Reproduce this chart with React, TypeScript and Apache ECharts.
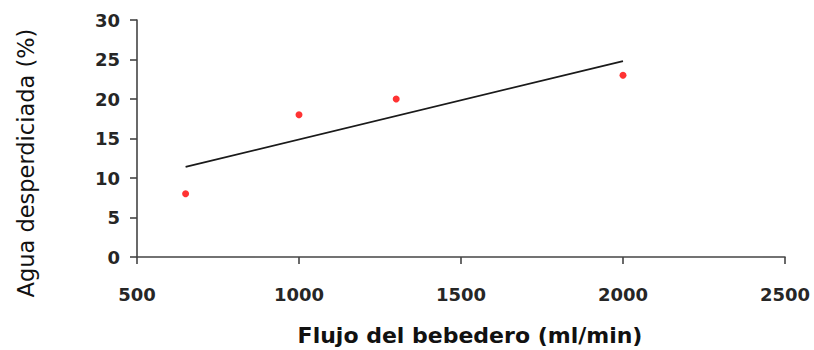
import React, { useEffect, useRef } from "react";
import * as echarts from "echarts";

const flowRates = [650, 1000, 1300, 2000];
const wastedWater = [8, 18, 20, 23];
const trendX = [650, 2000];
const trendY = [11.4, 24.8];
const xTicks = [500, 1000, 1500, 2000, 2500];
const yTicks = [0, 5, 10, 15, 20, 25, 30];
const xTitle = "Flujo del bebedero (ml/min)";
const yTitle = "Agua desperdiciada (%)";

export default function App() {
  const ref = useRef<HTMLDivElement>(null);
  useEffect(() => {
    const chart = echarts.init(ref.current!, null, { renderer: "svg" });
    const axisLine = { show: true, lineStyle: { color: "#444", width: 1.6 } };
    const tickLabel = {
      fontFamily: "DejaVu Sans",
      fontWeight: "bold",
      fontSize: 18,
      color: "#262626",
      formatter: (v: number) => String(v),
    };
    chart.setOption({
      animation: false,
      grid: { left: 137, right: 29, top: 20, bottom: 93, containLabel: false },
      xAxis: {
        type: "value",
        min: xTicks[0],
        max: xTicks[xTicks.length - 1],
        interval: xTicks[1] - xTicks[0],
        axisLine,
        axisTick: { show: true, inside: false, length: 7, lineStyle: { color: "#444", width: 1.6 } },
        axisLabel: { ...tickLabel, margin: 28 },
        splitLine: { show: false },
      },
      yAxis: {
        type: "value",
        min: yTicks[0],
        max: yTicks[yTicks.length - 1],
        interval: yTicks[1] - yTicks[0],
        axisLine,
        axisTick: { show: true, inside: false, length: 7, lineStyle: { color: "#444", width: 1.6 } },
        axisLabel: { ...tickLabel, margin: 17 },
        splitLine: { show: false },
      },
      graphic: [
        {
          type: "text",
          x: 470,
          y: 335,
          style: {
            text: xTitle,
            fontFamily: "DejaVu Sans",
            fontWeight: "bold",
            fontSize: 22,
            fill: "#111",
            align: "center",
            verticalAlign: "middle",
          },
        },
        {
          type: "text",
          x: 26,
          y: 163,
          rotation: Math.PI / 2,
          style: {
            text: yTitle,
            fontFamily: "DejaVu Sans",
            fontSize: 22.5,
            fill: "#111",
            align: "center",
            verticalAlign: "middle",
          },
        },
      ],
      series: [
        {
          type: "line",
          data: trendX.map((x, i) => [x, trendY[i]]),
          showSymbol: false,
          symbol: "none",
          lineStyle: { color: "#1a1a1a", width: 1.8 },
          z: 2,
        },
        {
          type: "scatter",
          data: flowRates.map((x, i) => [x, wastedWater[i]]),
          symbol: "circle",
          symbolSize: 7,
          itemStyle: { color: "#ff0000" },
          z: 3,
        },
      ],
    });
    return () => chart.dispose();
  }, []);
  return (
    <div
      ref={ref}
      style={{ position: "fixed", left: 0, top: 0, width: 814, height: 350, background: "#fff" }}
    />
  );
}
